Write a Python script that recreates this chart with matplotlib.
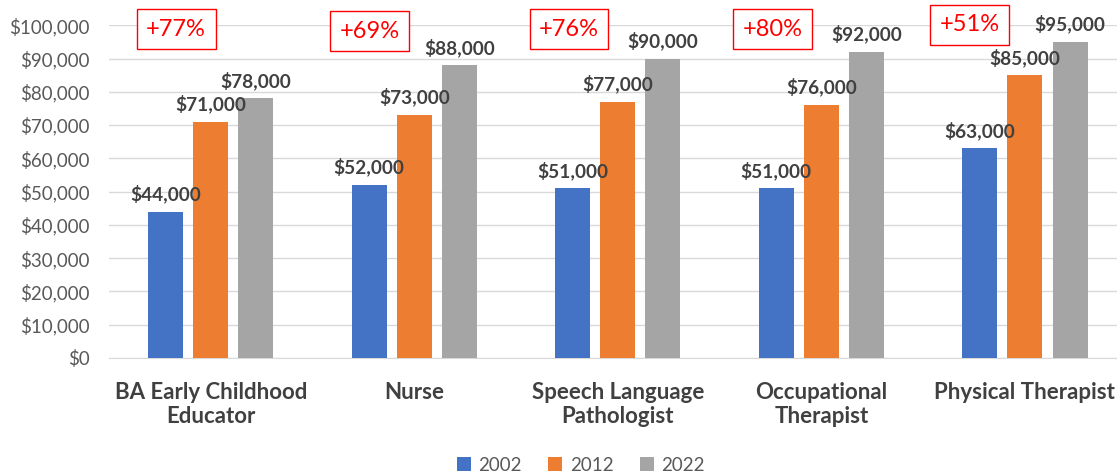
import numpy as np
import matplotlib.pyplot as plt
from matplotlib.ticker import FuncFormatter

categories = ["BA Early Childhood\nEducator", "Nurse", "Speech Language\nPathologist",
              "Occupational\nTherapist", "Physical Therapist"]
years = ["2002", "2012", "2022"]
salary_2002 = [44000, 52000, 51000, 51000, 63000]
salary_2012 = [71000, 73000, 77000, 76000, 85000]
salary_2022 = [78000, 88000, 90000, 92000, 95000]
growth = ["+77%", "+69%", "+76%", "+80%", "+51%"]

# where the hand-placed growth boxes sit (offset from group centre, height)
box_dx = [-0.17, -0.22, -0.24, -0.24, -0.27]
box_y = [98800, 98200, 98800, 98800, 100150]

colors = ["#4472c4", "#ed7d31", "#a5a5a5"]
plt.rcParams['font.family'] = ['Lato', 'DejaVu Sans']

fig = plt.figure(figsize=(11.17, 4.76), dpi=100)
# plot area runs a little past the right edge, as in the original
ax = fig.add_axes([0.0976, 0.248, 0.911, 0.699])

x = np.arange(len(categories))
width = 0.172
step = 0.222
series = [salary_2002, salary_2012, salary_2022]
for i, (vals, col, yr) in enumerate(zip(series, colors, years)):
    pos = x + (i - 1) * step
    ax.bar(pos, vals, width, color=col, label=yr, zorder=3)
    for p, v in zip(pos, vals):
        ax.annotate(f"${v:,}", (p, v), xytext=(0, 6), textcoords="offset points",
                    ha="center", va="bottom", fontsize=13.7, fontweight="bold",
                    color="#404040", zorder=4)

# growth boxes
for xi, g, dx, yv in zip(x, growth, box_dx, box_y):
    ax.text(xi + dx, yv, g, ha="center", va="center", fontsize=17, color="red",
            bbox=dict(boxstyle="square,pad=0.4", fc="white", ec="red", lw=1),
            clip_on=False, zorder=5)

ax.set_xlim(-0.5, len(categories) - 0.5)
ax.set_ylim(0, 100000)
ax.set_yticks(np.arange(0, 100001, 10000))
ax.yaxis.set_major_formatter(FuncFormatter(lambda v, _: f"${v:,.0f}"))
ax.grid(axis="y", color="#d9d9d9", lw=1, zorder=0)
for s in ["top", "right", "left"]:
    ax.spines[s].set_visible(False)
ax.spines["bottom"].set_color("#d9d9d9")
ax.tick_params(axis="both", length=0)
ax.tick_params(axis="y", labelsize=13.5, labelcolor="#595959", pad=14)
ax.set_xticks(x)
ax.set_xticklabels(categories, fontsize=16, fontweight="bold", color="#404040",
                   linespacing=1.2)
ax.tick_params(axis="x", pad=17)

fig.legend(loc="center", bbox_to_anchor=(0.52, 0.023), ncol=3, frameon=False,
           fontsize=13.5, handlelength=0.75, handleheight=0.75, columnspacing=1.4,
           handletextpad=0.4, labelcolor="#595959")

fig.savefig("out.png", dpi=100)
